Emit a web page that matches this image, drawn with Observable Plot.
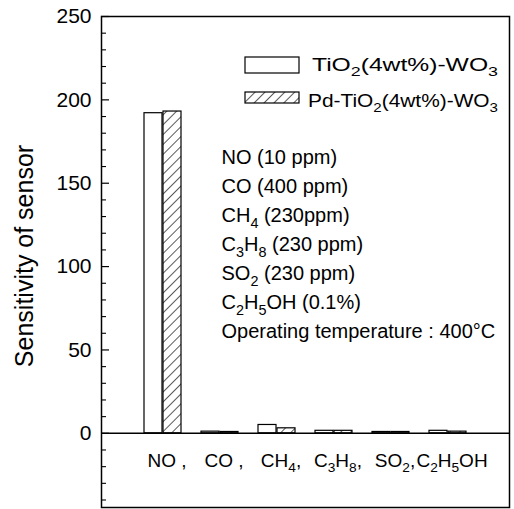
<!DOCTYPE html>
<html>
<head>
<meta charset="utf-8">
<script src="https://cdn.jsdelivr.net/npm/d3@7"></script>
<script src="https://cdn.jsdelivr.net/npm/@observablehq/plot@0.6"></script>
<style>
  body { margin: 0; background: #fff; }
  #chart { position: relative; width: 514px; height: 509px; }
</style>
</head>
<body>
<div id="chart"></div>
<script>
// ---- data ----
const gases = ["NO", "CO", "CH4", "C3H8", "SO2", "C2H5OH"];
const gasTickLabels = ["NO ,", "CO ,", "CH4,", "C3H8,", "SO2,", "C2H5OH"];
const seriesNames = ["TiO2(4wt%)-WO3", "Pd-TiO2(4wt%)-WO3"];
const tio2Values = [192, 1, 5, 1.5, 0.8, 1.5];
const pdTio2Values = [193, 0.8, 3, 1.5, 0.8, 1];
const yMajorTicks = [0, 50, 100, 150, 200, 250];
const yMinorTicks = [-40, -30, -20, -10, 10, 20, 30, 40, 60, 70, 80, 90, 110, 120, 130, 140,
                     160, 170, 180, 190, 210, 220, 230, 240];
const yLabel = "Sensitivity of sensor";
const conditionLines = ["NO (10 ppm)", "CO (400 ppm)", "CH4 (230ppm)", "C3H8 (230 ppm)",
                        "SO2 (230 ppm)", "C2H5OH (0.1%)", "Operating temperature : 400°C"];

const rows = gases.map((g, i) => ({gas: g, label: gasTickLabels[i], a: tio2Values[i], b: pdTio2Values[i]}));

const W = 514, H = 509;
const mL = 101, mR = 5, mT = 16, mB = 2;
const frameW = W - mL - mR;
const font = "'Liberation Sans', Arial, Helvetica, sans-serif";

const chart = Plot.plot({
  width: W, height: H,
  marginLeft: mL, marginRight: mR, marginTop: mT, marginBottom: mB,
  style: {fontFamily: font, background: "white", color: "black", overflow: "visible"},
  x: {domain: gases, paddingInner: 0.345, paddingOuter: 0.69, axis: null},
  y: {domain: [-44.5, 250], axis: null},
  marks: [
    Plot.barY(rows, {x: "gas", y: "a", fill: "white", stroke: "black", strokeWidth: 1.2, insetRight: 19}),
    Plot.barY(rows, {x: "gas", y: "b", fill: "url(#hatch)", stroke: "black", strokeWidth: 1.2, insetLeft: 19}),
    Plot.ruleY([0], {stroke: "black", strokeWidth: 1.4}),
    Plot.ruleY(yMajorTicks, {stroke: "black", strokeWidth: 1.2, insetRight: frameW - 8}),
    Plot.ruleY(yMinorTicks, {stroke: "black", strokeWidth: 1.1, insetRight: frameW - 5}),
    Plot.text(yMajorTicks, {y: d => d, text: d => String(d), frameAnchor: "left", dx: -10,
      textAnchor: "end", fontSize: 21, fill: "black"}),
    Plot.text([yLabel], {text: d => d, frameAnchor: "left", dx: -77, dy: -6, rotate: -90,
      textAnchor: "middle", lineAnchor: "middle", fontSize: 25, fill: "black"}),
    Plot.text(rows, {x: "gas", text: "label", frameAnchor: "bottom", dx: 4, dy: -47, fontSize: 19,
      textAnchor: "middle", lineAnchor: "middle", fill: "black"}),
    Plot.text([conditionLines.join("\n")], {text: d => d, frameAnchor: "top-left", dx: 120, dy: 127,
      textAnchor: "start", lineAnchor: "top", lineHeight: 1.45, fontSize: 20, fill: "black"}),
    Plot.frame({stroke: "black", strokeWidth: 1.5})
  ]
});

document.getElementById("chart").appendChild(chart);

const svg = d3.select(chart);
const defs = svg.insert("defs", ":first-child");
const pat = defs.append("pattern").attr("id", "hatch").attr("patternUnits", "userSpaceOnUse")
  .attr("width", 7).attr("height", 7).attr("patternTransform", "rotate(45)");
pat.append("rect").attr("width", 7).attr("height", 7).attr("fill", "white");
pat.append("line").attr("x1", 0).attr("y1", 0).attr("x2", 0).attr("y2", 7)
  .attr("stroke", "black").attr("stroke-width", 1.3);

// legend
const leg = svg.append("g").attr("font-family", font).attr("fill", "black").attr("text-anchor", "start");
leg.append("rect").attr("x", 245).attr("y", 57).attr("width", 54).attr("height", 16)
  .attr("fill", "white").attr("stroke", "black").attr("stroke-width", 1.2);
leg.append("text").attr("x", 312).attr("y", 71).attr("font-size", 18)
  .attr("textLength", 186).attr("lengthAdjust", "spacingAndGlyphs").text(seriesNames[0]);
leg.append("rect").attr("x", 245).attr("y", 92).attr("width", 54).attr("height", 11)
  .attr("fill", "url(#hatch)").attr("stroke", "black").attr("stroke-width", 1.2);
leg.append("text").attr("x", 308).attr("y", 107).attr("font-size", 18)
  .attr("textLength", 190).attr("lengthAdjust", "spacingAndGlyphs").text(seriesNames[1]);

// chemical subscripts: digits that directly follow a letter
function subscriptify(root) {
  const ns = "http://www.w3.org/2000/svg";
  const leaves = [];
  root.querySelectorAll("text, tspan").forEach(el => {
    if (el.childNodes.length === 1 && el.firstChild.nodeType === 3 && /[A-Za-z]\d/.test(el.textContent)) leaves.push(el);
  });
  for (const el of leaves) {
    const fs = parseFloat(getComputedStyle(el).fontSize) || 16;
    const shift = fs * 0.28;
    const s = el.textContent;
    const segs = [];
    const re = /([A-Za-z])(\d+)/g;
    let last = 0, m;
    while ((m = re.exec(s))) {
      const cut = m.index + 1;
      segs.push({t: s.slice(last, cut), sub: false});
      segs.push({t: m[2], sub: true});
      last = cut + m[2].length;
    }
    if (last < s.length) segs.push({t: s.slice(last), sub: false});
    el.textContent = "";
    let prevSub = false;
    for (const sg of segs) {
      if (!sg.t) continue;
      const t = document.createElementNS(ns, "tspan");
      t.textContent = sg.t;
      if (sg.sub) {
        t.setAttribute("font-size", (fs * 0.72).toFixed(1));
        if (!prevSub) t.setAttribute("dy", shift.toFixed(1));
      } else if (prevSub) {
        t.setAttribute("dy", (-shift).toFixed(1));
      }
      prevSub = sg.sub;
      el.appendChild(t);
    }
  }
}
subscriptify(chart);
</script>
</body>
</html>
